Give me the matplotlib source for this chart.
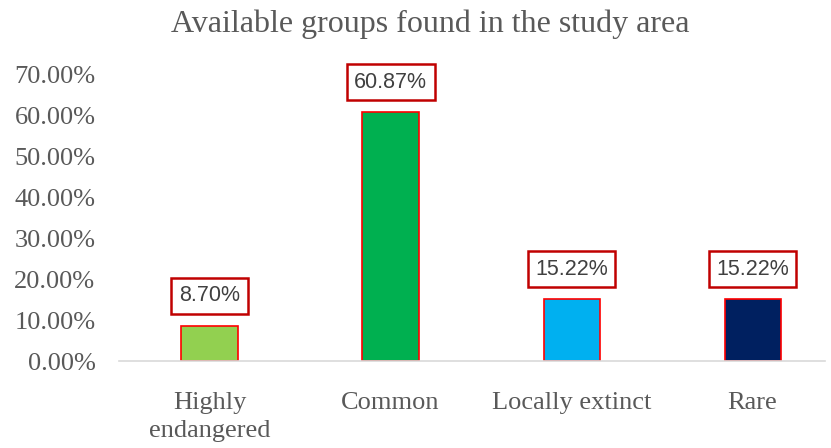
import matplotlib.pyplot as plt
from matplotlib.ticker import FuncFormatter

categories = ["Highly\nendangered", "Common", "Locally extinct", "Rare"]
values = [8.70, 60.87, 15.22, 15.22]
colors = ["#92D050", "#00B050", "#00B0F0", "#002060"]

fig = plt.figure(figsize=(8.31, 4.48), dpi=100)
ax = fig.add_axes([119 / 831, 0.194, (825 - 119) / 831, 0.8326 - 0.194])

x = range(len(categories))
bars = ax.bar(x, values, width=0.31, color=colors, edgecolor="#FF0000", linewidth=1.2)

for b, v in zip(bars, values):
    ax.annotate(f"{v:.2f}%", (b.get_x() + b.get_width() / 2, v),
                xytext=(0, 21.5), textcoords="offset points", ha="center", va="center",
                fontsize=15.5, color="#404040", family="Liberation Sans",
                bbox=dict(boxstyle="square,pad=0.35", fc="white", ec="#C00000", lw=1.8))

ax.set_xlim(-0.5, 3.4)
ax.set_ylim(0, 70)
ax.set_yticks(range(0, 71, 10))
ax.yaxis.set_major_formatter(FuncFormatter(lambda v, p: f"{v:.2f}%"))
ax.set_xticks(list(x))
ax.set_xticklabels(categories)

for lab in ax.get_xticklabels() + ax.get_yticklabels():
    lab.set_family("Liberation Serif")
    lab.set_fontsize(19)
    lab.set_color("#595959")
for lab in ax.get_xticklabels():
    lab.set_linespacing(1.4)
ax.tick_params(length=0)
ax.tick_params(axis="x", pad=22)
ax.tick_params(axis="y", pad=17)

for s in ["top", "right", "left"]:
    ax.spines[s].set_visible(False)
ax.spines["bottom"].set_color("#D9D9D9")
ax.spines["bottom"].set_linewidth(1.2)

fig.text(0.518, 0.945, "Available groups found in the study area", ha="center", va="center",
         fontsize=23, family="Liberation Serif", color="#595959")

fig.savefig("out.png", dpi=100)
